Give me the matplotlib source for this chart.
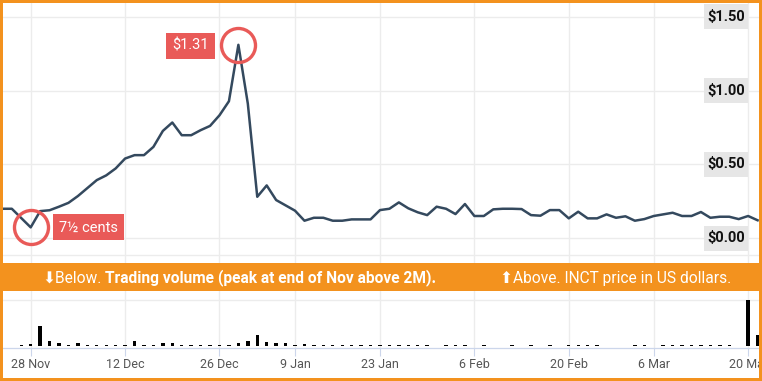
import matplotlib
matplotlib.use('Agg')
import matplotlib.pyplot as plt
from matplotlib.patches import Rectangle
import matplotlib.transforms as mtransforms

plt.rcParams['font.family'] = ['Roboto', 'DejaVu Sans']

# ---------------- data (one entry per trading day) ----------------
day_index = list(range(-3, 78))
price = [0.20, 0.20, 0.137, 0.074, 0.184, 0.19, 0.214, 0.24, 0.286, 0.34,
         0.394, 0.426, 0.473, 0.54, 0.563, 0.563, 0.619, 0.727, 0.784, 0.698,
         0.698, 0.732, 0.761, 0.833, 0.928, 1.31, 0.912, 0.281, 0.358, 0.259,
         0.223, 0.187, 0.119, 0.139, 0.139, 0.119, 0.119, 0.128, 0.128, 0.128,
         0.191,
         0.200, 0.243, 0.203, 0.176, 0.157, 0.214, 0.200, 0.164, 0.232, 0.151,
         0.151, 0.196, 0.200, 0.200, 0.198, 0.157, 0.153, 0.191, 0.191, 0.135,
         0.180, 0.135, 0.135, 0.162, 0.139, 0.149, 0.119, 0.130, 0.151, 0.162,
         0.173, 0.151, 0.151, 0.178, 0.139, 0.146, 0.146, 0.130, 0.151, 0.122]
volume_m = [0, 0, 0.1, 0.2, 2.2, 0.55, 0.25, 0.1, 0.25, 0.1,
            0.1, 0.1, 0.1, 0.05, 0.55, 0.1, 0.1, 0.33, 0.33, 0.1,
            0.05, 0.05, 0.05, 0.05, 0.1, 0.25, 0.55, 1.2, 0.44, 0.33,
            0.33, 0.05, 0.14, 0.07, 0.07, 0.07, 0.07, 0.07, 0.07, 0.07,
            0.07,
            0.07, 0.07, 0.07, 0.07, 0.07, 0, 0.07, 0.07, 0.07, 0,
            0.07, 0, 0, 0.07, 0, 0.07, 0, 0.07, 0, 0.07,
            0.07, 0.07, 0.07, 0, 0, 0, 0.07, 0.07, 0, 0.07,
            0.07, 0.07, 0.07, 0.07, 0.07, 0.07, 0.07, 0, 5.0, 1.2]
tick_index = [0, 10, 20, 28, 37, 47, 57, 66, 76]
tick_labels = ['28 Nov', '12 Dec', '26 Dec', '9 Jan', '23 Jan', '6 Feb',
               '20 Feb', '6 Mar', '20 Mar']
price_ticks = [0.0, 0.5, 1.0, 1.5]
price_tick_labels = ['$0.00', '$0.50', '$1.00', '$1.50']
volume_grid = [5, 10]
peak_index, peak_price, peak_label = 22, 1.31, '$1.31'
low_index, low_price, low_label = 0, 0.074, '7½ cents'
band_below = '\u2B07Below.'
band_bold = 'Trading volume (peak at end of Nov above 2M).'
band_above = '\u2B06Above. INCT price in US dollars.'

# ---------------- styling ----------------
ORANGE = '#f3921e'
RED = '#e95a58'
LINE = '#34495e'
GRID = '#ececec'

W, H = 762, 381
fig = plt.figure(figsize=(W / 100, H / 100), dpi=100)
fig.patch.set_facecolor('white')


def fx(px):
    return px / W


def fy(py):
    return 1 - py / H


x0_px, dx_px = 30.7, 9.44
left_px, right_px = 3, 759
xlim = ((left_px - x0_px) / dx_px, (right_px - x0_px) / dx_px)

# ---- price panel ----
zero_py, ppd = 238.3, 147.7
top_py, pbot_py = 3, 255
ax = fig.add_axes([fx(left_px), fy(pbot_py), (right_px - left_px) / W,
                   (pbot_py - top_py) / H])
ax.plot(day_index, price, color=LINE, lw=1.8, solid_joinstyle='round', zorder=3)
ax.set_xlim(xlim)
ax.set_ylim((zero_py - pbot_py) / ppd, (zero_py - top_py) / ppd)
ax.set_yticks(price_ticks)
ax.set_xticks(tick_index)
ax.grid(True, color=GRID, lw=1)
ax.tick_params(length=0, labelleft=False, labelbottom=False)
for s in ax.spines.values():
    s.set_visible(False)

# markers around peak and low
for xi, yi in [(peak_index, peak_price), (low_index, low_price)]:
    ax.plot([xi], [yi], marker='o', ms=24.5, mfc='none', mec=RED, mew=2.4,
            zorder=5, clip_on=False)
ax.annotate(peak_label, xy=(peak_index, peak_price), xytext=(-48, -1),
            textcoords='offset pixels', ha='center', va='center',
            color='white', fontsize=10.5,
            bbox=dict(boxstyle='square,pad=0.42', fc=RED, ec='none'), zorder=6)
ax.annotate(low_label, xy=(low_index, low_price), xytext=(57.5, 0),
            textcoords='offset pixels', ha='center', va='center',
            color='white', fontsize=10.5,
            bbox=dict(boxstyle='square,pad=0.42', fc=RED, ec='none'), zorder=6)

# right-side price labels in grey boxes
trans = mtransforms.blended_transform_factory(fig.transFigure, ax.transData)
for v, lab in zip(price_ticks, price_tick_labels):
    fig.add_artist(Rectangle((fx(704), v - 12.5 / ppd), 44 / W, 25 / ppd,
                             transform=trans, fc='#e6e6e6', ec='none', zorder=4))
    fig.text(fx(726), v, lab, transform=trans, ha='center', va='center',
             fontsize=10.5, fontweight='bold', color='#111111', zorder=4.5)

# ---- volume panel ----
vbase_py, ppm = 345.7, 9.07
vbot_py, vtop_py = 347.5, 254
axv = fig.add_axes([fx(left_px), fy(vbot_py), (right_px - left_px) / W,
                    (vbot_py - vtop_py) / H])
axv.bar(day_index, volume_m, width=0.36, color='black', zorder=3)
axv.set_xlim(xlim)
axv.set_ylim((vbase_py - vbot_py) / ppm, (vbase_py - vtop_py) / ppm)
axv.set_yticks(volume_grid)
axv.set_xticks(tick_index)
axv.set_xticklabels(tick_labels)
axv.grid(True, color=GRID, lw=1)
axv.tick_params(axis='y', length=0, labelleft=False)
axv.tick_params(axis='x', length=5.5, width=0.8, color='#ccd6eb',
                labelcolor='#555555', labelsize=9, pad=2)
for name, s in axv.spines.items():
    s.set_visible(name == 'bottom')
axv.spines['bottom'].set_color('#ccd6eb')
axv.spines['bottom'].set_linewidth(0.9)

# ---- orange band with captions ----
fig.add_artist(Rectangle((0, fy(291)), 1, (291 - 263) / H, transform=fig.transFigure,
                         fc=ORANGE, ec='none', zorder=5))
band_y = fy(278)
t1 = fig.text(fx(42), band_y, band_below, ha='left', va='center', color='white',
              fontsize=11.2, zorder=6)
fig.canvas.draw()
bb = t1.get_window_extent()
fig.text(bb.x1 / W + fx(4), band_y, band_bold, ha='left', va='center',
         color='white', fontsize=11.2, fontweight='bold', zorder=6)
fig.text(fx(500), band_y, band_above, ha='left', va='center', color='white',
         fontsize=11.2, zorder=6)

# ---- orange frame ----
for rect in [(0, 0, 3, H), (W - 3, 0, 3, H), (0, 0, W, 3), (0, H - 3.3, W, 3.3)]:
    px, py, w, h = rect
    fig.add_artist(Rectangle((fx(px), fy(py + h)), w / W, h / H,
                             transform=fig.transFigure, fc=ORANGE, ec='none',
                             zorder=10))

fig.savefig('out.png', dpi=100, facecolor='white')
